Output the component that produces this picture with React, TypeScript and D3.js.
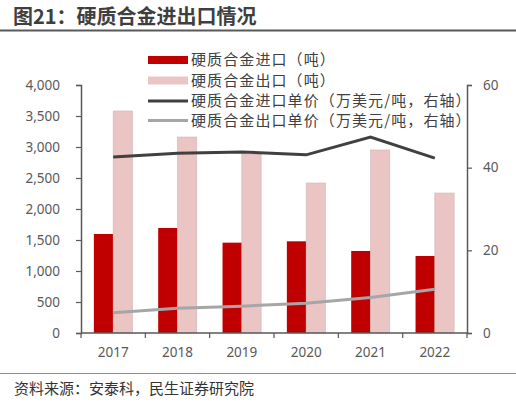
import React from "react";
import * as d3 from "d3";

const years = ["2017", "2018", "2019", "2020", "2021", "2022"];
const importTons = [1597, 1694, 1457, 1479, 1323, 1242];
const exportTons = [3581, 3161, 2887, 2419, 2952, 2258];
const importPrice = [42.6, 43.5, 43.8, 43.1, 47.4, 42.3];
const exportPrice = [4.9, 6.0, 6.5, 7.2, 8.6, 10.6];
const leftTicks = [0, 500, 1000, 1500, 2000, 2500, 3000, 3500, 4000];
const rightTicks = [0, 20, 40, 60];
const legendNames = [
  "硬质合金进口（吨）",
  "硬质合金出口（吨）",
  "硬质合金进口单价（万美元/吨，右轴）",
  "硬质合金出口单价（万美元/吨，右轴）",
];

const FONT = "'Noto Sans CJK SC', 'Noto Sans', sans-serif";
const NUM_FONT = "'Noto Sans', 'Open Sans', sans-serif";

const App = () => {
  const svgRef = React.useRef<SVGSVGElement>(null);
  const width = 516;
  const height = 404;
  const margin = { left: 81, right: 49, top: 85, bottom: 71 };

  React.useEffect(() => {
    const svgEl = d3.select(svgRef.current);
    svgEl.selectAll("*").remove();
    const innerW = width - margin.left - margin.right;
    const innerH = height - margin.top - margin.bottom;

    // title + rule underneath
    svgEl.append("text")
      .attr("x", 13).attr("y", 24)
      .attr("font-family", FONT).attr("font-size", 20).attr("font-weight", "bold")
      .attr("fill", "#3f3f3f")
      .text("图21：硬质合金进出口情况");
    svgEl.append("line")
      .attr("x1", 0).attr("x2", width).attr("y1", 30.5).attr("y2", 30.5)
      .attr("stroke", "#595959").attr("stroke-width", 2);

    // source line at bottom
    svgEl.append("line")
      .attr("x1", 0).attr("x2", width).attr("y1", 373.5).attr("y2", 373.5)
      .attr("stroke", "#8c8c8c").attr("stroke-width", 1);
    svgEl.append("text")
      .attr("x", 14).attr("y", 394)
      .attr("font-family", FONT).attr("font-size", 15)
      .attr("fill", "#333")
      .text("资料来源：安泰科，民生证券研究院");

    const x = d3.scaleBand().domain(years).range([0, innerW]);
    const yL = d3.scaleLinear().domain([0, 4000]).range([innerH, 0]);
    const yR = d3.scaleLinear().domain([0, 60]).range([innerH, 0]);
    const bw = x.bandwidth() * 0.3;

    const g = svgEl.append("g")
      .attr("transform", `translate(${margin.left},${margin.top})`);

    // bars
    g.selectAll(".imp").data(years).enter().append("rect")
      .attr("x", (d) => x(d)! + x.bandwidth() / 2 - bw)
      .attr("y", (d, i) => yL(importTons[i]))
      .attr("width", bw)
      .attr("height", (d, i) => innerH - yL(importTons[i]))
      .attr("fill", "#c00000");
    g.selectAll(".exp").data(years).enter().append("rect")
      .attr("x", (d) => x(d)! + x.bandwidth() / 2)
      .attr("y", (d, i) => yL(exportTons[i]))
      .attr("width", bw)
      .attr("height", (d, i) => innerH - yL(exportTons[i]))
      .attr("fill", "#ebc4c4")
      .attr("stroke", "#d4b5b5").attr("stroke-width", 0.6);

    // lines on right axis
    const line = d3.line<number>()
      .x((d, i) => x(years[i])! + x.bandwidth() / 2)
      .y((d) => yR(d));
    g.append("path").attr("d", line(importPrice))
      .attr("fill", "none").attr("stroke", "#404040").attr("stroke-width", 3);
    g.append("path").attr("d", line(exportPrice))
      .attr("fill", "none").attr("stroke", "#a6a6a6").attr("stroke-width", 3);

    const styleAxis = (ag) => {
      ag.select(".domain").attr("stroke", "#595959").attr("stroke-width", 1.5);
      ag.selectAll("line").attr("stroke", "#595959").attr("stroke-width", 1.2);
      ag.selectAll("text").attr("font-family", NUM_FONT).attr("font-size", 13.5).attr("fill", "#595959");
    };

    // left axis
    const axL = g.append("g").call(
      d3.axisLeft(yL).tickValues(leftTicks).tickSize(5).tickPadding(16)
        .tickFormat(d3.format(",")) as any
    );
    styleAxis(axL);

    // right axis
    const axR = g.append("g").attr("transform", `translate(${innerW},0)`).call(
      d3.axisRight(yR).tickValues(rightTicks).tickSize(5).tickPadding(11) as any
    );
    styleAxis(axR);

    // bottom axis with ticks at category boundaries
    const axB = g.append("g").attr("transform", `translate(0,${innerH})`);
    axB.append("line").attr("x1", 0).attr("x2", innerW)
      .attr("stroke", "#595959").attr("stroke-width", 1.5);
    axB.selectAll(".tk").data(d3.range(years.length + 1)).enter().append("line")
      .attr("x1", (d) => d * x.step()).attr("x2", (d) => d * x.step())
      .attr("y1", 0).attr("y2", 5)
      .attr("stroke", "#595959").attr("stroke-width", 1.2);
    axB.selectAll(".lb").data(years).enter().append("text")
      .attr("x", (d) => x(d)! + x.bandwidth() / 2)
      .attr("y", 24)
      .attr("text-anchor", "middle")
      .attr("font-family", NUM_FONT).attr("font-size", 13.5).attr("fill", "#595959")
      .text((d) => d);

    // legend
    const lg = svgEl.append("g").attr("transform", "translate(148,0)");
    const rowY = [60, 80.5, 101, 120.5];
    lg.append("rect").attr("x", 0).attr("y", rowY[0] - 4).attr("width", 40).attr("height", 8).attr("fill", "#c00000");
    lg.append("rect").attr("x", 0).attr("y", rowY[1] - 4).attr("width", 40).attr("height", 8).attr("fill", "#ebc4c4");
    lg.append("line").attr("x1", 0).attr("x2", 40).attr("y1", rowY[2]).attr("y2", rowY[2])
      .attr("stroke", "#404040").attr("stroke-width", 3);
    lg.append("line").attr("x1", 0).attr("x2", 40).attr("y1", rowY[3]).attr("y2", rowY[3])
      .attr("stroke", "#a6a6a6").attr("stroke-width", 3);
    lg.selectAll(".lt").data(legendNames).enter().append("text")
      .attr("x", 43)
      .attr("y", (d, i) => rowY[i])
      .attr("dy", "0.35em")
      .attr("font-family", FONT).attr("font-size", 15).attr("letter-spacing", 1.1)
      .attr("fill", "#404040")
      .text((d) => d);
  }, []);

  return (
    <svg ref={svgRef} width={width} height={height}
      style={{ position: "absolute", left: 0, top: 0, background: "#fff" }} />
  );
};

export default App;
